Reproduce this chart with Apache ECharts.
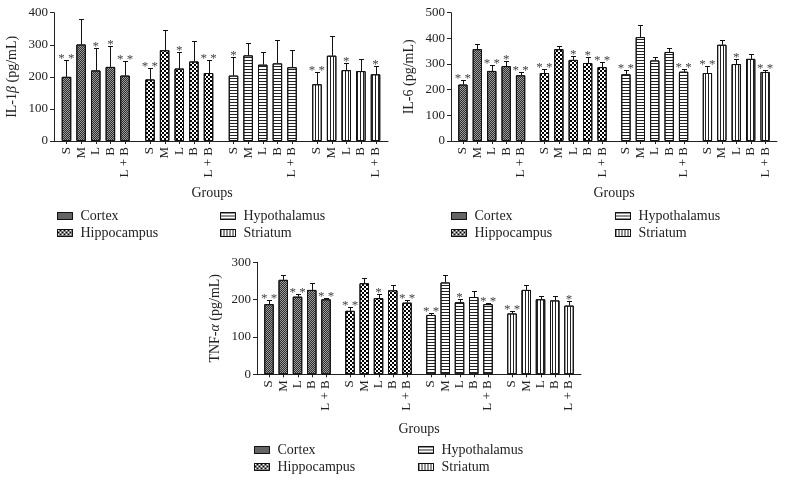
<!DOCTYPE html>
<html><head><meta charset="utf-8">
<script src="https://cdn.jsdelivr.net/npm/echarts@6/dist/echarts.min.js"></script>
<style>html,body{margin:0;padding:0;background:#fff}#c{width:786px;height:482px}</style>
</head><body><div id="c"></div>
<script>
// ---------- data ----------
const treatments = ['S', 'M', 'L', 'B', 'L + B'];
const regions = ['Cortex', 'Hippocampus', 'Hypothalamus', 'Striatum'];

const il1bTicks = [0, 100, 200, 300, 400];
const il1bMean = [
  [200, 301, 220, 231, 204],
  [192, 283, 226, 248, 212],
  [204, 267, 238, 242, 230],
  [177, 266, 221, 218, 208]
];
const il1bErr = [
  [52, 79, 70, 64, 45],
  [37, 62, 50, 65, 39],
  [59, 40, 40, 72, 53],
  [39, 62, 21, 37, 26]
];
const il1bStars = [
  [2, 0, 1, 1, 2],
  [2, 0, 1, 0, 2],
  [1, 0, 0, 0, 0],
  [2, 0, 1, 0, 1]
];

const il6Ticks = [0, 100, 200, 300, 400, 500];
const il6Mean = [
  [220, 358, 273, 292, 256],
  [265, 358, 316, 304, 288],
  [260, 405, 314, 347, 270],
  [265, 375, 300, 320, 269]
];
const il6Err = [
  [18, 19, 23, 18, 12],
  [16, 12, 15, 23, 20],
  [17, 46, 12, 15, 11],
  [27, 19, 18, 19, 9]
];
const il6Stars = [
  [2, 0, 2, 1, 2],
  [2, 0, 1, 1, 2],
  [2, 0, 0, 0, 2],
  [2, 0, 1, 0, 2]
];

const tnfTicks = [0, 100, 200, 300];
const tnfMean = [
  [188, 253, 208, 226, 201],
  [170, 244, 204, 225, 192],
  [159, 246, 193, 207, 188],
  [163, 226, 201, 198, 184]
];
const tnfErr = [
  [11, 12, 6, 18, 4],
  [10, 14, 10, 14, 6],
  [4, 19, 8, 16, 4],
  [6, 12, 9, 12, 12]
];
const tnfStars = [
  [2, 0, 2, 0, 2],
  [2, 0, 1, 0, 2],
  [2, 0, 1, 0, 2],
  [2, 0, 0, 0, 1]
];

// ---------- styles ----------
const FONT = 'Liberation Serif';
const INK = '#222';
function regionStyle(g) {
  const s = [
    {color: '#9c9c9c', decal: {symbol: 'rect', color: '#2e2e2e', dashArrayX: [[1, 1], [0, 1, 1, 0]], dashArrayY: [1, 0], symbolSize: 1}},
    {color: '#ffffff', decal: {symbol: 'rect', color: '#000000', dashArrayX: [[2, 2], [0, 2, 2, 0]], dashArrayY: [2, 0], symbolSize: 1}},
    {color: '#ffffff', decal: {symbol: 'rect', color: '#222222', dashArrayX: [1, 0], dashArrayY: [1, 2], symbolSize: 1}},
    {color: '#ffffff', decal: {symbol: 'rect', color: '#222222', dashArrayX: [1, 2], dashArrayY: [1, 0], symbolSize: 1}}
  ][g];
  return {color: s.color, decal: Object.assign({}, s.decal)};
}

const panels = [
  {mean: il1bMean, err: il1bErr, stars: il1bStars, ticks: il1bTicks, yName: 'IL-1{i|β} (pg/mL)',
   grid: {left: 54, top: 12.7, width: 334, height: 128.3}, bw: 9.5, gap: '54%', yNameGap: 35, xNameGap: 45, xNamePad: [0, 18, 0, 0]},
  {mean: il6Mean, err: il6Err, stars: il6Stars, ticks: il6Ticks, yName: 'IL-6 (pg/mL)',
   grid: {left: 451, top: 12.7, width: 326, height: 128.3}, bw: 9.3, gap: '55%', yNameGap: 35, xNameGap: 45, xNamePad: [0, 0, 0, 0]},
  {mean: tnfMean, err: tnfErr, stars: tnfStars, ticks: tnfTicks, yName: 'TNF-{i|α} (pg/mL)',
   grid: {left: 257, top: 262.3, width: 324, height: 112}, bw: 9.5, gap: '50%', yNameGap: 35, xNameGap: 48, xNamePad: [0, 0, 0, 0]}
];

function makeRender(p) {
  return function (params, api) {
    const g = api.value(0), t = api.value(1), m = api.value(2), e = api.value(3), s = api.value(4);
    let off = null;
    if (api.barLayout) {
      const lay = api.barLayout({count: treatments.length, barWidth: p.bw, barGap: p.gap});
      if (lay && lay[t]) off = lay[t].offsetCenter;
    }
    if (off == null) {
      const step = p.bw * (1 + parseFloat(p.gap) / 100);
      off = (t - (treatments.length - 1) / 2) * step;
    }
    const base = api.coord([g, 0]);
    const x = base[0] + off;
    const xl = Math.round(x) + 0.5;
    const yTop = api.coord([g, m])[1];
    const yErr = Math.round(api.coord([g, m + e])[1]) + 0.5;
    const y0 = base[1];
    const children = [
      {type: 'line', shape: {x1: xl, y1: yTop, x2: xl, y2: yErr}, style: {stroke: '#111', lineWidth: 1}},
      {type: 'line', shape: {x1: xl - 2.5, y1: yErr, x2: xl + 2.5, y2: yErr}, style: {stroke: '#111', lineWidth: 1}},
      {type: 'line', shape: {x1: xl, y1: y0, x2: xl, y2: y0 + 3}, style: {stroke: INK, lineWidth: 1}},
      {type: 'text', x: x, y: y0 + 6, rotation: Math.PI / 2,
       style: {text: treatments[t], fill: INK, font: '13px "' + FONT + '"', align: 'right', verticalAlign: 'middle', textAlign: 'right', textVerticalAlign: 'middle'}}
    ];
    if (s > 0) {
      children.push({type: 'text', x: x, y: yErr - 2,
        style: {text: s === 2 ? '* *' : '*', fill: '#444', font: '13px "' + FONT + '"', align: 'center', verticalAlign: 'middle', textAlign: 'center', textVerticalAlign: 'middle'}});
    }
    return {type: 'group', children: children};
  };
}

const grids = [], xAxes = [], yAxes = [], series = [];
panels.forEach(function (p, i) {
  grids.push(Object.assign({containLabel: false}, p.grid));
  xAxes.push({
    type: 'category', gridIndex: i, data: regions,
    axisLine: {lineStyle: {color: INK, width: 1}}, axisTick: {show: false}, axisLabel: {show: false},
    name: 'Groups', nameLocation: 'middle', nameGap: p.xNameGap,
    nameTextStyle: {fontFamily: FONT, fontSize: 14, color: INK, padding: p.xNamePad}
  });
  yAxes.push({
    type: 'value', gridIndex: i, min: p.ticks[0], max: p.ticks[p.ticks.length - 1], interval: p.ticks[1] - p.ticks[0],
    axisLine: {show: true, lineStyle: {color: INK, width: 1}},
    axisTick: {show: true, length: 4, lineStyle: {color: INK}},
    splitLine: {show: false},
    axisLabel: {fontFamily: FONT, fontSize: 13, color: INK, margin: 6},
    name: p.yName, nameLocation: 'middle', nameGap: p.yNameGap,
    nameTextStyle: {fontFamily: FONT, fontSize: 14, color: INK,
      rich: {i: {fontFamily: FONT, fontSize: 14, color: INK, fontStyle: 'italic'}}}
  });
  treatments.forEach(function (tr, t) {
    series.push({
      type: 'bar', name: tr, xAxisIndex: i, yAxisIndex: i, barWidth: p.bw, barGap: p.gap, silent: true,
      itemStyle: {borderColor: '#111', borderWidth: 1},
      data: regions.map(function (r, g) {
        return {value: p.mean[g][t], itemStyle: regionStyle(g)};
      })
    });
  });
  const cdata = [];
  regions.forEach(function (r, g) {
    treatments.forEach(function (tr, t) {
      cdata.push([g, t, p.mean[g][t], p.err[g][t], p.stars[g][t]]);
    });
  });
  series.push({
    type: 'custom', xAxisIndex: i, yAxisIndex: i, z: 5, clip: false, silent: true,
    encode: {x: 0, y: 2}, renderItem: makeRender(p), data: cdata
  });
});

// hidden grid for legend swatches
grids.push({left: 0, top: 0, width: 1, height: 1, show: false});
xAxes.push({type: 'category', gridIndex: 3, show: false, data: ['x']});
yAxes.push({type: 'value', gridIndex: 3, show: false});
regions.forEach(function (r, g) {
  const st = regionStyle(g);
  series.push({
    type: 'bar', name: r, xAxisIndex: 3, yAxisIndex: 3, data: [],
    itemStyle: {color: st.color, decal: st.decal, borderColor: '#111', borderWidth: 1}
  });
});

function legendAt(left, top, names) {
  return {
    orient: 'vertical', left: left, top: top, data: names, icon: 'rect',
    itemWidth: 15, itemHeight: 7, itemGap: 3, padding: 0, selectedMode: false,
    textStyle: {fontFamily: FONT, fontSize: 14, color: INK, padding: [0, 0, 0, 3]},
    itemStyle: {borderColor: '#111', borderWidth: 1}
  };
}

const chart = echarts.init(document.getElementById('c'));
chart.setOption({
  animation: false,
  backgroundColor: '#ffffff',
  grid: grids, xAxis: xAxes, yAxis: yAxes, series: series,
  legend: [
    legendAt(57, 209, ['Cortex', 'Hippocampus']),
    legendAt(220, 209, ['Hypothalamus', 'Striatum']),
    legendAt(451, 209, ['Cortex', 'Hippocampus']),
    legendAt(615, 209, ['Hypothalamus', 'Striatum']),
    legendAt(254, 443, ['Cortex', 'Hippocampus']),
    legendAt(418, 443, ['Hypothalamus', 'Striatum'])
  ]
});
</script>
</body></html>
